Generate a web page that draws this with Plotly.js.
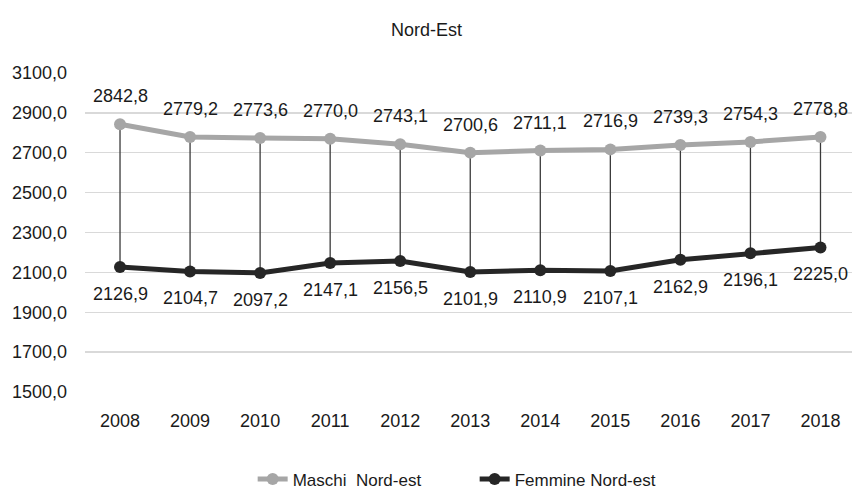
<!DOCTYPE html>
<html>
<head>
<meta charset="utf-8">
<script src="https://cdn.plot.ly/plotly-3.0.1.min.js"></script>
<style>html,body{margin:0;padding:0;background:#fff;}#chart{width:853px;height:498px;}</style>
</head>
<body>
<div id="chart"></div>
<script>
const years = ['2008','2009','2010','2011','2012','2013','2014','2015','2016','2017','2018'];
const maschi = [2842.8, 2779.2, 2773.6, 2770.0, 2743.1, 2700.6, 2711.1, 2716.9, 2739.3, 2754.3, 2778.8];
const femmine = [2126.9, 2104.7, 2097.2, 2147.1, 2156.5, 2101.9, 2110.9, 2107.1, 2162.9, 2196.1, 2225.0];
const yTicks = [1500, 1700, 1900, 2100, 2300, 2500, 2700, 2900, 3100];

const fmt = v => v.toFixed(1).replace('.', ',');
const idx = years.map((_, i) => i);
const FONT = 'Liberation Sans, Arial, sans-serif';
const FS = 18;

// drop lines between series
const dx = [], dy = [];
idx.forEach(i => { dx.push(i, i, null); dy.push(maschi[i], femmine[i], null); });

const traces = [
  {x: dx, y: dy, mode: 'lines', line: {color: '#3a3a3a', width: 1.3}, showlegend: false, hoverinfo: 'skip'},
  {x: idx, y: maschi, name: 'Maschi\u00a0 Nord-est', mode: 'lines+markers',
   line: {color: '#A6A6A6', width: 5}, marker: {color: '#A6A6A6', size: 12}},
  {x: idx, y: femmine, name: 'Femmine Nord-est', mode: 'lines+markers',
   line: {color: '#262626', width: 5}, marker: {color: '#262626', size: 12}}
];

const annotations = [];
idx.forEach(i => {
  annotations.push({x: i, y: maschi[i], text: fmt(maschi[i]), showarrow: false, yshift: 28,
    font: {family: FONT, size: FS, color: '#1a1a1a'}});
  annotations.push({x: i, y: femmine[i], text: fmt(femmine[i]), showarrow: false, yshift: -27,
    font: {family: FONT, size: FS, color: '#1a1a1a'}});
});

const layout = {
  width: 853, height: 498,
  margin: {l: 85, r: 1, t: 73, b: 100},
  paper_bgcolor: '#fff', plot_bgcolor: '#fff',
  font: {family: FONT, size: FS, color: '#1a1a1a'},
  title: {text: 'Nord-Est', x: 0.5, xref: 'container', y: 1 - 30/498, yref: 'container', yanchor: 'middle',
          font: {family: FONT, size: 18, color: '#1a1a1a'}},
  xaxis: {range: [-0.5, 10.45], tickvals: idx, ticktext: years, showgrid: false, zeroline: false,
          showline: false, ticks: '', ticklabelstandoff: 16, fixedrange: true},
  yaxis: {range: [1500, 3100], tickvals: yTicks, ticktext: yTicks.map(fmt), showgrid: true,
          gridcolor: '#D9D9D9', gridwidth: 1.3, zeroline: false, showline: false, ticks: '',
          ticklabelstandoff: 17, fixedrange: true},
  showlegend: true,
  legend: {orientation: 'h', x: 0.2186, xanchor: 'left', y: -0.274, yanchor: 'middle',
           font: {family: FONT, size: 17, color: '#1a1a1a'}, entrywidth: 177, entrywidthmode: 'pixels',
           tracegroupgap: 0},
  annotations: annotations
};

Plotly.newPlot('chart', traces, layout, {displayModeBar: false, staticPlot: true});
</script>
</body>
</html>
